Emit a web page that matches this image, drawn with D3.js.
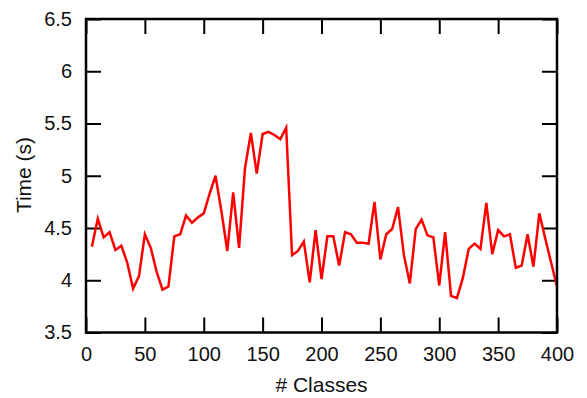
<!DOCTYPE html>
<html>
<head>
<meta charset="utf-8">
<script src="https://cdn.jsdelivr.net/npm/d3@7"></script>
<style>
  body { margin: 0; background: #fff; }
  svg text { font-family: "Liberation Sans", Arial, sans-serif; fill: #111; }
</style>
</head>
<body>
<div id="chart"></div>
<script>
// number of classes (x) and measured time in seconds (y)
var classes = [
    5, 10, 15, 20, 25, 30, 35, 40, 45, 50,
    55, 60, 65, 70, 75, 80, 85, 90, 95, 100,
    105, 110, 115, 120, 125, 130, 135, 140, 145, 150,
    155, 160, 165, 170, 175, 180, 185, 190, 195, 200,
    205, 210, 215, 220, 225, 230, 235, 240, 245, 250,
    255, 260, 265, 270, 275, 280, 285, 290, 295, 300,
    305, 310, 315, 320, 325, 330, 335, 340, 345, 350,
    355, 360, 365, 370, 375, 380, 385, 390, 395, 400
];
var times = [
    4.32, 4.59, 4.41, 4.46, 4.29, 4.33, 4.17, 3.92, 4.04, 4.44,
    4.31, 4.08, 3.91, 3.94, 4.42, 4.44, 4.62, 4.55, 4.60, 4.64,
    4.83, 5.00, 4.66, 4.28, 4.84, 4.31, 5.07, 5.41, 5.02, 5.40,
    5.42, 5.39, 5.35, 5.46, 4.24, 4.28, 4.37, 3.98, 4.48, 4.01,
    4.42, 4.42, 4.14, 4.46, 4.44, 4.36, 4.36, 4.35, 4.75, 4.20,
    4.44, 4.49, 4.70, 4.24, 3.97, 4.49, 4.58, 4.43, 4.41, 3.95,
    4.46, 3.85, 3.83, 4.02, 4.30, 4.35, 4.30, 4.74, 4.25, 4.48,
    4.42, 4.44, 4.12, 4.14, 4.44, 4.13, 4.64, 4.40, 4.17, 3.94
];
var xTicks = [0, 50, 100, 150, 200, 250, 300, 350, 400];
var yTicks = [3.5, 4, 4.5, 5, 5.5, 6, 6.5];

var width = 587, height = 398;
var margin = { top: 19, right: 30, bottom: 65.5, left: 86 };
var w = width - margin.left - margin.right;
var h = height - margin.top - margin.bottom;

var svg = d3.select("#chart")
    .append("svg")
    .attr("width", width)
    .attr("height", height);

var g = svg.append("g")
    .attr("transform", "translate(" + margin.left + "," + margin.top + ")");

var x = d3.scaleLinear().domain([0, 400]).range([0, w]);
var y = d3.scaleLinear().domain([3.5, 6.5]).range([h, 0]);

// axes, ticks pointing inwards
function styleAxis(sel) {
    sel.select(".domain").remove();
    sel.selectAll(".tick line").attr("stroke", "#000").attr("stroke-width", 2);
    sel.selectAll(".tick text").style("font-size", "20px");
}

g.append("g")
    .attr("transform", "translate(0," + h + ")")
    .call(d3.axisBottom(x).tickValues(xTicks).tickSize(-15).tickPadding(14).tickFormat(d3.format("d")))
    .call(styleAxis);

g.append("g")
    .call(d3.axisTop(x).tickValues(xTicks).tickSize(-15).tickFormat(""))
    .call(styleAxis);

g.append("g")
    .call(d3.axisLeft(y).tickValues(yTicks).tickSize(-15).tickPadding(14).tickFormat(d3.format("")))
    .call(styleAxis);

g.append("g")
    .attr("transform", "translate(" + w + ",0)")
    .call(d3.axisRight(y).tickValues(yTicks).tickSize(-15).tickFormat(""))
    .call(styleAxis);

// the series
var line = d3.line()
    .x(function(d, i) { return x(classes[i]); })
    .y(function(d) { return y(d); });

g.append("path")
    .datum(times)
    .attr("fill", "none")
    .attr("stroke", "#ff0000")
    .attr("stroke-width", 2.5)
    .attr("stroke-linejoin", "miter")
    .attr("d", line);

// frame
g.append("rect")
    .attr("width", w)
    .attr("height", h)
    .attr("fill", "none")
    .attr("stroke", "#000")
    .attr("stroke-width", 2.5);

// axis titles
svg.append("text")
    .attr("x", margin.left + w / 2)
    .attr("y", 391.5)
    .attr("text-anchor", "middle")
    .style("font-size", "21px")
    .text("# Classes");

svg.append("text")
    .attr("transform", "translate(31,175) rotate(-90)")
    .attr("text-anchor", "middle")
    .style("font-size", "21px")
    .text("Time (s)");
</script>
</body>
</html>
